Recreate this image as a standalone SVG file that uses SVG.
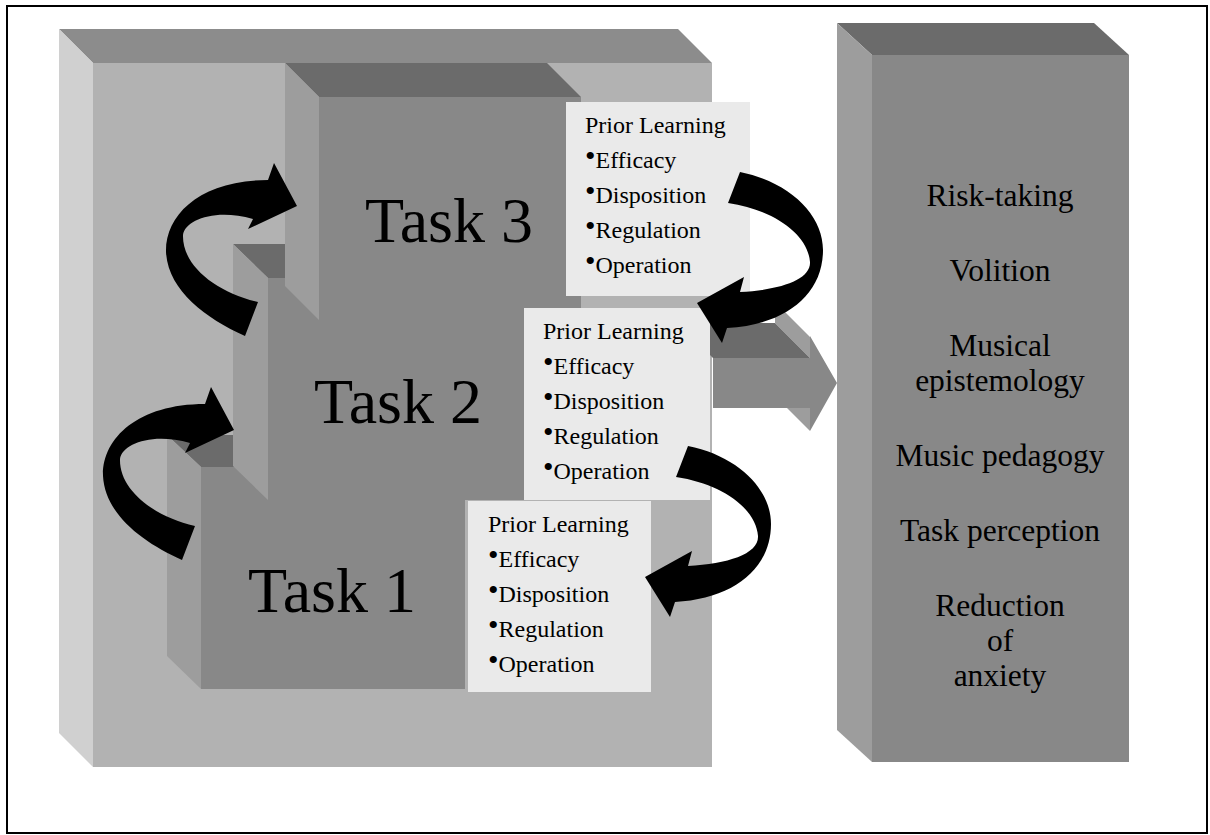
<svg xmlns="http://www.w3.org/2000/svg" width="1210" height="835" viewBox="0 0 1210 835">
<style>
.bfront{fill:#b2b2b2}
.bleft{fill:#d0d0d0}
.btop{fill:#8c8c8c}
.cfront{fill:#888888}
.cleft{fill:#9d9d9d}
.ctop{fill:#6b6b6b}
.tbox{fill:#eaeaea}
.task{font-family:"Liberation Serif","Times New Roman",serif;font-size:64px;fill:#000;text-anchor:middle}
.pl{font-family:"Liberation Serif","Times New Roman",serif;font-size:24px;fill:#000}
.bu{font-size:30px}
.rp{font-family:"Liberation Serif","Times New Roman",serif;font-size:31.5px;fill:#000;text-anchor:middle}
.curve{fill:#000}
</style>
<defs>
<path id="arrowL" d="M245,336 C205,318 168,290 166,252 C165,215 200,180 268,180 L274,163 L297,206 L248,229 L253,219 C215,208 185,220 183,235 C182,265 215,292 258,302 Z"/>
<path id="arrowR" d="M740,172 C790,182 823,215 823,250 C823,295 785,325 727,328 L722,343 L697,303 L744,277 L740,292 C780,290 811,280 810,262 C808,235 775,210 728,203 Z"/>
</defs>
<rect x="7" y="6" width="1200" height="827" fill="#fff" stroke="#000" stroke-width="2"/>

<g id="container">
<polygon class="btop" points="59,29 678,29 712,63 93,63"/>
<polygon class="bleft" points="59,29 93,63 93,767 59,733"/>
<rect class="bfront" x="93" y="63" width="619" height="704"/>
</g>

<g id="outcomes">
<polygon class="ctop" points="837,23 1094,23 1129,55 872,55"/>
<polygon class="cleft" points="837,23 872,55 872,762 837,730"/>
<rect class="cfront" x="872" y="55" width="257" height="707"/>
<text class="rp" x="1000" y="206">Risk-taking</text>
<text class="rp" x="1000" y="281">Volition</text>
<text class="rp" x="1000" y="356">Musical</text>
<text class="rp" x="1000" y="391">epistemology</text>
<text class="rp" x="1000" y="466">Music pedagogy</text>
<text class="rp" x="1000" y="541">Task perception</text>
<text class="rp" x="1000" y="616">Reduction</text>
<text class="rp" x="1000" y="651">of</text>
<text class="rp" x="1000" y="686">anxiety</text>
</g>

<g id="task1">
<polygon class="ctop" points="167,435 431,435 465,467 201,467"/>
<polygon class="cleft" points="167,435 201,467 201,689 167,656"/>
<rect class="cfront" x="201" y="467" width="264" height="222"/>
<text class="task" x="332" y="612">Task 1</text>
</g>

<g id="task2">
<polygon class="ctop" points="233,244 495,244 530,278 268,278"/>
<polygon class="cleft" points="233,244 268,278 268,500 233,466"/>
<rect class="cfront" x="268" y="278" width="262" height="222"/>
<text class="task" x="398" y="423">Task 2</text>
</g>

<g id="task3">
<polygon class="ctop" points="285,63 547,63 581,97 319,97"/>
<polygon class="cleft" points="285,63 319,97 319,320 285,286"/>
<rect class="cfront" x="319" y="97" width="262" height="223"/>
<text class="task" x="449" y="242">Task 3</text>
</g>

<g id="connectors">
<g id="block-arrow">
<polygon class="cleft" points="775,302 810,337 810,358 775,323"/>
<polygon class="ctop" points="678,323 775,323 810,358 713,358"/>
<polygon class="cleft" points="775,373 810,408 810,431 775,396"/>
<polygon class="cfront" points="713,358 810,358 810,336 837,383 810,431 810,408 713,408"/>
</g>
</g>

<g id="prior3">
<rect class="tbox" x="566" y="102" width="184" height="194"/>
<text class="pl" x="585" y="133">Prior Learning</text>
<text class="pl" x="585" y="168"><tspan class="bu" dy="-2">•</tspan><tspan dy="2">Efficacy</tspan></text>
<text class="pl" x="585" y="203"><tspan class="bu" dy="-2">•</tspan><tspan dy="2">Disposition</tspan></text>
<text class="pl" x="585" y="238"><tspan class="bu" dy="-2">•</tspan><tspan dy="2">Regulation</tspan></text>
<text class="pl" x="585" y="273"><tspan class="bu" dy="-2">•</tspan><tspan dy="2">Operation</tspan></text>
</g>

<g id="prior2">
<rect class="tbox" x="524" y="308" width="186" height="192"/>
<text class="pl" x="543" y="339">Prior Learning</text>
<text class="pl" x="543" y="374"><tspan class="bu" dy="-2">•</tspan><tspan dy="2">Efficacy</tspan></text>
<text class="pl" x="543" y="409"><tspan class="bu" dy="-2">•</tspan><tspan dy="2">Disposition</tspan></text>
<text class="pl" x="543" y="444"><tspan class="bu" dy="-2">•</tspan><tspan dy="2">Regulation</tspan></text>
<text class="pl" x="543" y="479"><tspan class="bu" dy="-2">•</tspan><tspan dy="2">Operation</tspan></text>
</g>

<g id="prior1">
<rect class="tbox" x="468" y="501" width="183" height="191"/>
<text class="pl" x="488" y="532">Prior Learning</text>
<text class="pl" x="488" y="567"><tspan class="bu" dy="-2">•</tspan><tspan dy="2">Efficacy</tspan></text>
<text class="pl" x="488" y="602"><tspan class="bu" dy="-2">•</tspan><tspan dy="2">Disposition</tspan></text>
<text class="pl" x="488" y="637"><tspan class="bu" dy="-2">•</tspan><tspan dy="2">Regulation</tspan></text>
<text class="pl" x="488" y="672"><tspan class="bu" dy="-2">•</tspan><tspan dy="2">Operation</tspan></text>
</g>

<g id="curved-arrows">
<use href="#arrowL" class="curve"/>
<use href="#arrowL" class="curve" transform="translate(-63,224)"/>
<use href="#arrowR" class="curve"/>
<use href="#arrowR" class="curve" transform="translate(-52,274)"/>
</g>
</svg>
